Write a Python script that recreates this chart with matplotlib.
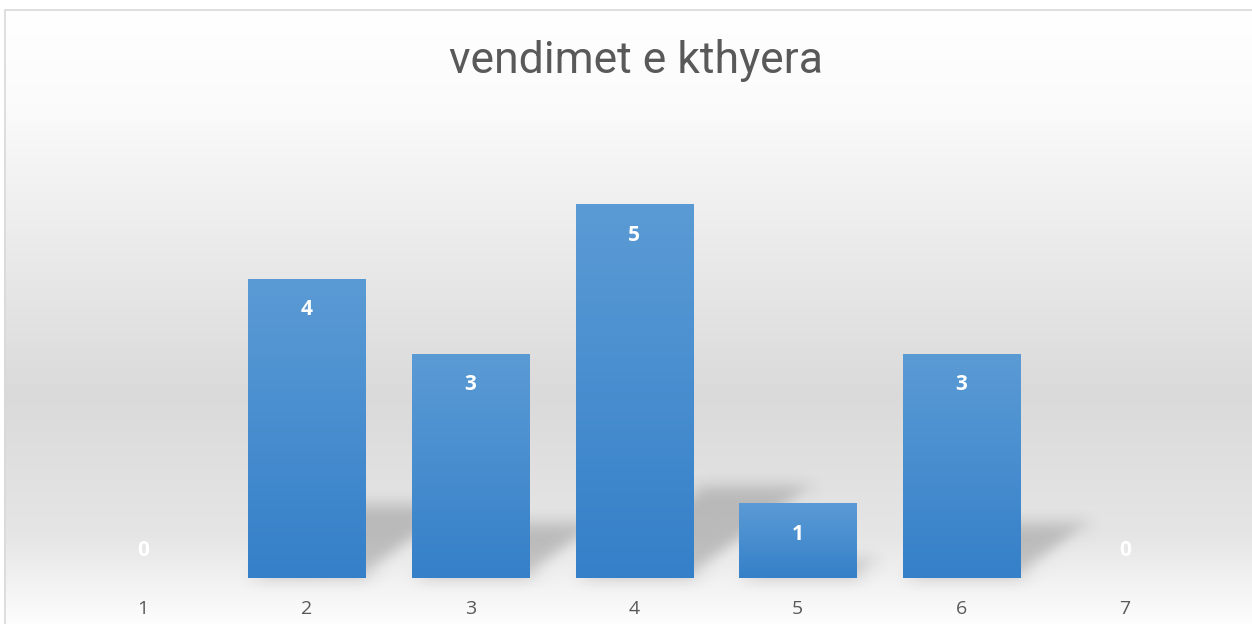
import numpy as np
import matplotlib
matplotlib.use("Agg")
import matplotlib.pyplot as plt
from matplotlib.patches import Polygon, Rectangle
from matplotlib.colors import to_rgb

categories = ["1", "2", "3", "4", "5", "6", "7"]
values = [0, 4, 3, 5, 1, 3, 0]
title = "vendimet e kthyera"

W, H = 1252, 624
fig = plt.figure(figsize=(W / 100, H / 100), dpi=100)
fig.patch.set_facecolor("white")

# background gradient inside the chart border
bg = fig.add_axes([0, 0, 1, 1], zorder=-10)
bg.set_axis_off()
yy = np.linspace(0, 1, 400)  # 0 = top
stops_y = [0.0, 0.15, 0.62, 0.85, 1.0]
stops_v = [1.0, 0.985, 0.855, 0.90, 1.0]
g = np.interp(yy, stops_y, stops_v)
img = np.repeat(g[:, None], 2, axis=1)
img = np.dstack([img, img, img])
bg.imshow(img, extent=(4 / W, 1.01, -0.01, 1 - 9 / H), aspect="auto", origin="upper",
          transform=bg.transAxes, interpolation="bilinear")
bg.set_xlim(0, 1)
bg.set_ylim(0, 1)
bg.add_patch(Rectangle((4.5 / W, -0.05), 1.1, 1 - 9.5 / H + 0.05, transform=bg.transAxes,
                       fill=False, edgecolor="#D9D9D9", linewidth=1.2))

ax = fig.add_axes([61.2 / W, 46 / H, 1145.8 / W, 448.8 / H])
ax.set_facecolor("none")
x = np.arange(len(categories))
width = 0.715


def make_blur(sigma):
    r = int(3 * sigma)
    k = np.exp(-0.5 * (np.arange(-r, r + 1) / sigma) ** 2)
    k /= k.sum()

    def f(im, dpi):
        im = np.pad(im, ((r, r), (r, r), (0, 0)))
        out = np.zeros_like(im)
        for i, w in enumerate(k):
            out += w * np.roll(im, i - r, axis=0)
        out2 = np.zeros_like(out)
        for i, w in enumerate(k):
            out2 += w * np.roll(out, i - r, axis=1)
        return out2, -r, -r
    return f


# perspective shadows
for xi, v in zip(x, values):
    if v <= 0:
        continue
    xl, xr = xi - width / 2, xi + width / 2
    s = 0.151 * v
    t = 0.245 * v
    poly = Polygon([(xl, 0), (xr, 0), (xr + s, t), (xl + s, t)], closed=True,
                   facecolor=(0, 0, 0, 0.19), edgecolor="none", zorder=1)
    poly.set_agg_filter(make_blur(8))
    ax.add_patch(poly)

bars = ax.bar(x, values, width=width, color="#4A8FD1", zorder=2)
top_c = np.array(to_rgb("#5B9BD5"))
bot_c = np.array(to_rgb("#3580C9"))
grad = np.linspace(0, 1, 100)[:, None]
gimg = top_c[None, None, :] * (1 - grad[:, :, None]) + bot_c[None, None, :] * grad[:, :, None]
for b, v in zip(bars, values):
    if v <= 0:
        continue
    im = ax.imshow(gimg, extent=(b.get_x(), b.get_x() + b.get_width(), 0, v),
                   aspect="auto", origin="upper", zorder=3, interpolation="bilinear")
    im.set_clip_path(b)

for xi, v in zip(x, values):
    off = -31 if v > 0 else 28
    ax.annotate(str(v), (xi, v), xytext=(0, off), textcoords="offset pixels",
                ha="center", va="center", color="white", fontsize=15,
                fontweight="bold", family="Open Sans", zorder=5)

ax.set_xlim(-0.5, len(categories) - 0.5)
ax.set_ylim(0, 6)
ax.set_xticks(x)
ax.set_xticklabels(categories, family="Open Sans", fontsize=14, color="#595959")
ax.tick_params(axis="x", length=0, pad=16)
ax.set_yticks([])
for sp in ax.spines.values():
    sp.set_visible(False)

fig.text(636 / W, 1 - 61 / H, title, ha="center", va="center", fontsize=32,
         color="#595959", family="Roboto")

fig.savefig("out.png", dpi=100)
